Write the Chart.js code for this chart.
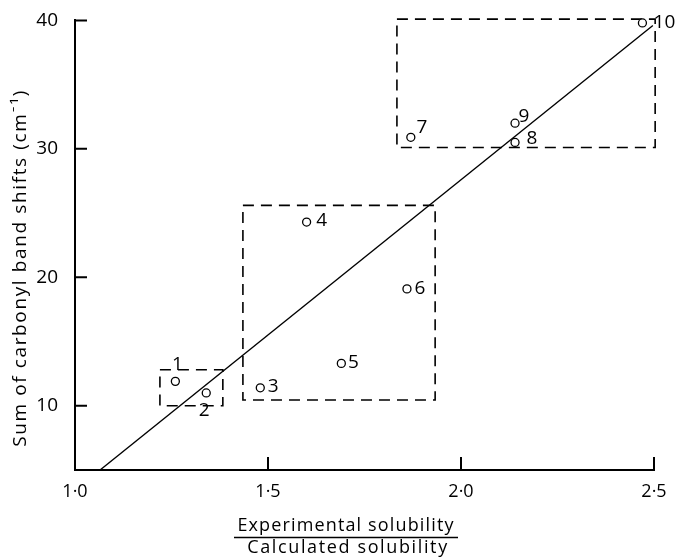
<!DOCTYPE html>
<html>
<head>
<meta charset="utf-8">
<script src="https://cdn.jsdelivr.net/npm/chart.js@4"></script>
<style>
  html, body { margin: 0; padding: 0; background: #fff; }
</style>
</head>
<body>
<canvas id="chart" width="677" height="557"></canvas>
<script>
// compound numbers and measured values
const pointIds = ["1", "2", "3", "4", "5", "6", "7", "8", "9", "10"];
const solubilityRatio = [1.26, 1.34, 1.48, 1.60, 1.69, 1.86, 1.87, 2.14, 2.14, 2.47];
const bandShiftSum = [11.9, 11.0, 11.4, 24.3, 13.3, 19.1, 30.9, 30.5, 32.0, 39.8];

// fitted line
const fitX = [1.065, 2.497];
const fitY = [5, 39.6];

// dashed group boxes (closed outlines)
const boxSmallX = [1.22, 1.383, 1.383, 1.22, 1.22];
const boxSmallY = [12.8, 12.8, 10.0, 10.0, 12.8];
const boxMidX = [1.435, 1.933, 1.933, 1.435, 1.435];
const boxMidY = [25.6, 25.6, 10.45, 10.45, 25.6];
const boxTopX = [1.834, 2.503, 2.503, 1.834, 1.834];
const boxTopY = [40.1, 40.1, 30.1, 30.1, 40.1];

const xTicks = [1.0, 1.5, 2.0, 2.5];
const xTickLabels = ["1·0", "1·5", "2·0", "2·5"];
const yTicks = [10, 20, 30, 40];
const yTickLabels = ["10", "20", "30", "40"];

const yTitle = "Sum of carbonyl band shifts (cm⁻¹)";
const xTitleTop = "Experimental solubility";
const xTitleBottom = "Calculated solubility";

const FONT = "'Open Sans', Lato, sans-serif";
const INK = "#000";

const toXY = (xs, ys) => xs.map((x, i) => ({ x: x, y: ys[i] }));

// label offsets (px) of each number from its circle
const labelOffsets = [[2, -17], [-2, 18], [13, -1], [15, -1], [12, -1], [13, 0], [11, -10], [17, -4], [9, -7], [22, 0]];

const fitText = (ctx, text, target) => {
  ctx.letterSpacing = "0px";
  const w = ctx.measureText(text).width;
  const sp = (target - w) / (text.length - 1);
  ctx.letterSpacing = sp.toFixed(2) + "px";
};

const extrasPlugin = {
  id: "extras",
  afterDraw(chart) {
    const ctx = chart.ctx;
    const xs = chart.scales.x;
    const ys = chart.scales.y;
    ctx.save();
    ctx.strokeStyle = INK;
    ctx.fillStyle = INK;

    // inward tick marks
    ctx.lineWidth = 2;
    ctx.beginPath();
    xTicks.forEach((v) => {
      const px = xs.getPixelForValue(v);
      if (v === xTicks[0]) return;
      ctx.moveTo(px, ys.bottom);
      ctx.lineTo(px, ys.bottom - 13);
    });
    yTicks.forEach((v) => {
      const py = ys.getPixelForValue(v);
      ctx.moveTo(xs.left, py);
      ctx.lineTo(xs.left + 12, py);
    });
    ctx.stroke();

    // point numbers
    const meta = chart.getDatasetMeta(0);
    ctx.font = "19px " + FONT;
    ctx.textAlign = "center";
    ctx.textBaseline = "middle";
    meta.data.forEach((el, i) => {
      const off = labelOffsets[i];
      ctx.fillText(pointIds[i], el.x + off[0], el.y + off[1]);
    });

    // y axis title
    ctx.save();
    ctx.translate(21, 268);
    ctx.rotate(-Math.PI / 2);
    ctx.font = "19px " + FONT;
    fitText(ctx, yTitle, 356);
    ctx.fillText(yTitle, 0, 0);
    ctx.restore();

    // x axis title as a fraction
    const cx = 346;
    ctx.font = "18px " + FONT;
    fitText(ctx, xTitleTop, 216);
    ctx.fillText(xTitleTop, cx, 526);
    fitText(ctx, xTitleBottom, 200);
    ctx.fillText(xTitleBottom, cx + 2, 548);
    ctx.letterSpacing = "0px";
    ctx.lineWidth = 1.3;
    ctx.beginPath();
    ctx.moveTo(cx - 112, 537.5);
    ctx.lineTo(cx + 112, 537.5);
    ctx.stroke();
    ctx.restore();
  }
};

const dashedBox = (xs, ys) => ({
  type: "line",
  data: toXY(xs, ys),
  borderColor: INK,
  borderWidth: 1.6,
  borderDash: [11, 7],
  pointRadius: 0,
  fill: false,
  tension: 0,
  clip: false
});

new Chart(document.getElementById("chart").getContext("2d"), {
  type: "scatter",
  data: {
    datasets: [
      {
        data: toXY(solubilityRatio, bandShiftSum),
        pointStyle: "circle",
        pointRadius: 4,
        pointBorderWidth: 1.3,
        pointBorderColor: INK,
        pointBackgroundColor: "#fff",
        showLine: false,
        clip: false
      },
      {
        type: "line",
        data: toXY(fitX, fitY),
        borderColor: INK,
        borderWidth: 1.4,
        pointRadius: 0,
        fill: false,
        clip: false
      },
      dashedBox(boxSmallX, boxSmallY),
      dashedBox(boxMidX, boxMidY),
      dashedBox(boxTopX, boxTopY)
    ]
  },
  options: {
    responsive: false,
    animation: false,
    layout: { padding: { left: 0, right: 23, top: 19, bottom: 0 } },
    scales: {
      x: {
        type: "linear",
        min: 1.0,
        max: 2.5,
        afterBuildTicks: (scale) => { scale.ticks = xTicks.map((v) => ({ value: v })); },
        afterFit: (scale) => { scale.height = 87; },
        grid: { display: false },
        border: { display: true, color: INK, width: 2 },
        ticks: {
          padding: 3,
          color: INK,
          font: { family: FONT, size: 18 },
          maxRotation: 0,
          callback: (v) => xTickLabels[xTicks.indexOf(v)]
        }
      },
      y: {
        type: "linear",
        min: 5,
        max: 40,
        afterBuildTicks: (scale) => { scale.ticks = yTicks.map((v) => ({ value: v })); },
        afterFit: (scale) => { scale.width = 75; },
        grid: { display: false },
        border: { display: true, color: INK, width: 2 },
        ticks: {
          padding: 9,
          color: INK,
          font: { family: FONT, size: 19 },
          callback: (v) => yTickLabels[yTicks.indexOf(v)]
        }
      }
    },
    plugins: {
      legend: { display: false },
      tooltip: { enabled: false }
    }
  },
  plugins: [extrasPlugin]
});
</script>
</body>
</html>
